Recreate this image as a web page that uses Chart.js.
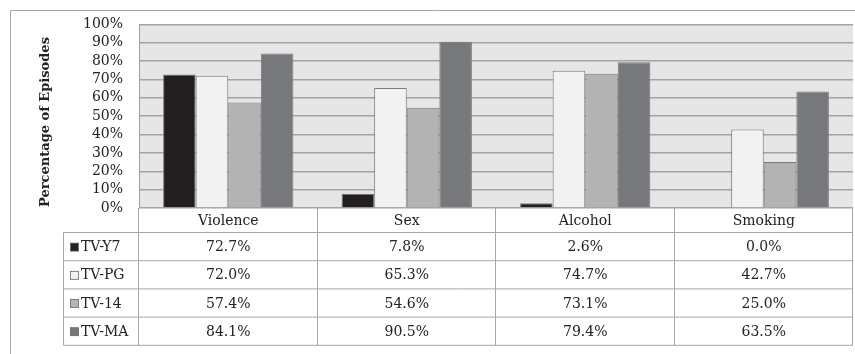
<!DOCTYPE html>
<html>
<head>
<meta charset="utf-8">
<script src="https://cdn.jsdelivr.net/npm/chart.js@4/dist/chart.umd.min.js"></script>
<style>
html,body{margin:0;padding:0;background:#fff;}
canvas{display:block;}
</style>
</head>
<body>
<canvas id="c" width="855" height="354"></canvas>
<script>
const categories = ['Violence', 'Sex', 'Alcohol', 'Smoking'];
const seriesNames = ['TV-Y7', 'TV-PG', 'TV-14', 'TV-MA'];
const tvY7 = [72.7, 7.8, 2.6, 0.0];
const tvPG = [72.0, 65.3, 74.7, 42.7];
const tv14 = [57.4, 54.6, 73.1, 25.0];
const tvMA = [84.1, 90.5, 79.4, 63.5];
const yAxisTitle = 'Percentage of Episodes';
const yMin = 0, yMax = 100, yStep = 10;

const seriesValues = [tvY7, tvPG, tv14, tvMA];
const seriesColors = ['#231f20', '#f2f2f2', '#b3b3b4', '#77787b'];
const SERIF = '"DejaVu Serif", serif';
const TEXT = '#222222';
const LINE = '#a6a6a6';

const decor = {
  id: 'decor',
  beforeDraw(chart) {
    const {ctx, chartArea: a} = chart;
    ctx.save();
    ctx.fillStyle = '#e6e6e6';
    ctx.fillRect(a.left, a.top, a.right - a.left, a.bottom - a.top);
    ctx.restore();
  },
  afterDraw(chart) {
    const {ctx, chartArea: a} = chart;
    const x = chart.scales.x;
    ctx.save();
    // outer frame
    ctx.strokeStyle = LINE;
    ctx.lineWidth = 1;
    ctx.beginPath();
    ctx.moveTo(10.5, 354);
    ctx.lineTo(10.5, 10.5);
    ctx.lineTo(855, 10.5);
    ctx.stroke();
    // plot border
    ctx.strokeStyle = '#a0a0a0';
    ctx.beginPath();
    ctx.moveTo(a.left + 0.5, a.bottom);
    ctx.lineTo(a.left + 0.5, a.top);
    ctx.stroke();

    // data table
    const headTop = a.bottom;
    const headH = 24.5;
    const rowH = 28.2;
    const legLeft = 63.5;
    const nRows = seriesNames.length;
    const bounds = [];
    for (let i = 0; i <= categories.length; i++) {
      bounds.push(i === 0 ? a.left : (i === categories.length ? a.right : (x.getPixelForValue(i - 1) + x.getPixelForValue(i)) / 2));
    }
    ctx.strokeStyle = LINE;
    ctx.lineWidth = 1;
    ctx.beginPath();
    ctx.moveTo(a.left, headTop + headH);
    ctx.lineTo(a.right, headTop + headH);
    for (let r = 1; r <= nRows; r++) {
      const y = headTop + headH + r * rowH;
      ctx.moveTo(legLeft, y);
      ctx.lineTo(a.right, y);
    }
    ctx.moveTo(legLeft, headTop + headH);
    ctx.lineTo(a.left, headTop + headH);
    bounds.forEach((bx) => {
      ctx.moveTo(Math.round(bx) - 0.5, headTop);
      ctx.lineTo(Math.round(bx) - 0.5, headTop + headH + nRows * rowH);
    });
    ctx.moveTo(legLeft, headTop + headH);
    ctx.lineTo(legLeft, headTop + headH + nRows * rowH);
    ctx.stroke();

    ctx.fillStyle = TEXT;
    ctx.font = '14px ' + SERIF;
    ctx.textAlign = 'center';
    ctx.textBaseline = 'middle';
    categories.forEach((c, i) => {
      ctx.fillText(c, x.getPixelForValue(i), headTop + headH / 2 + 1);
    });
    seriesNames.forEach((s, r) => {
      const cy = headTop + headH + r * rowH + rowH / 2 + 1;
      ctx.fillStyle = seriesColors[r];
      ctx.fillRect(70.5, cy - 4.5, 8, 8);
      ctx.strokeStyle = '#666';
      ctx.lineWidth = 0.8;
      ctx.strokeRect(70.5, cy - 4.5, 8, 8);
      ctx.fillStyle = TEXT;
      ctx.textAlign = 'left';
      ctx.fillText(s, 81, cy);
      ctx.textAlign = 'center';
      seriesValues[r].forEach((v, i) => {
        ctx.fillText(v.toFixed(1) + '%', x.getPixelForValue(i), cy);
      });
    });

    // y axis title
    ctx.translate(46, 122);
    ctx.rotate(-Math.PI / 2);
    ctx.font = 'bold 13px ' + SERIF;
    ctx.fillStyle = TEXT;
    ctx.textAlign = 'center';
    ctx.textBaseline = 'middle';
    ctx.fillText(yAxisTitle, 0, 0);
    ctx.restore();
  }
};

new Chart(document.getElementById('c'), {
  type: 'bar',
  data: {
    labels: categories,
    datasets: seriesNames.map((n, i) => ({
      label: n,
      data: seriesValues[i],
      backgroundColor: seriesColors[i],
      borderColor: '#7a7a7a',
      borderWidth: 1,
      categoryPercentage: 0.73,
      barPercentage: 1.0
    }))
  },
  options: {
    responsive: false,
    animation: false,
    devicePixelRatio: 1,
    layout: { padding: { left: 0, top: 23, right: 2, bottom: 146 } },
    plugins: { legend: { display: false }, tooltip: { enabled: false }, title: { display: false } },
    scales: {
      x: { display: false },
      y: {
        min: yMin, max: yMax,
        ticks: {
          stepSize: yStep,
          autoSkip: false,
          padding: 16,
          color: TEXT,
          font: { family: SERIF, size: 14 },
          callback: v => v + '%'
        },
        grid: { color: '#a3a3a3', lineWidth: 1.4, drawTicks: false },
        border: { display: false },
        afterFit: s => { s.width = 139; }
      }
    }
  },
  plugins: [decor]
});
</script>
</body>
</html>
